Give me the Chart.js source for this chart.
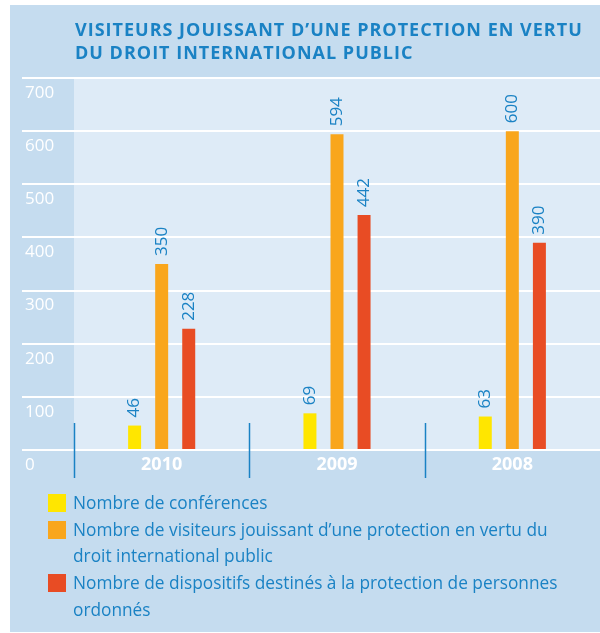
<!DOCTYPE html>
<html>
<head>
<meta charset="utf-8">
<script src="https://cdn.jsdelivr.net/npm/chart.js@4"></script>
<style>
  body { margin: 0; width: 600px; height: 633px; background: #fff; position: relative; overflow: hidden; font-family: 'Open Sans', sans-serif; }
  #panel { position: absolute; left: 10px; top: 5px; width: 590px; height: 627px; background: #c5dcef; }
  #chart { position: absolute; left: 0; top: 0; }
  #title { position: absolute; left: 75px; top: 18px; color: #1a82c4; font-weight: 700; font-size: 18px; letter-spacing: 1px; line-height: 23px; white-space: nowrap; }
  #legend { position: absolute; left: 48px; top: 490px; color: #1a82c4; font-size: 17.3px; line-height: 26.7px; }
  .item { display: flex; align-items: flex-start; white-space: nowrap; }
  .sw { width: 18px; height: 18px; margin-top: 4px; margin-right: 7px; flex: none; }
</style>
</head>
<body>
<div id="panel"></div>
<canvas id="chart" width="600" height="633"></canvas>
<div id="title">VISITEURS JOUISSANT D’UNE PROTECTION EN VERTU<br>DU DROIT INTERNATIONAL PUBLIC</div>
<div id="legend"></div>
<script>
const years = ['2010', '2009', '2008'];
const conferences = [46, 69, 63];
const visitors = [350, 594, 600];
const devices = [228, 442, 390];
const seriesNames = [
  'Nombre de conférences',
  'Nombre de visiteurs jouissant d’une protection en vertu du<br>droit international public',
  'Nombre de dispositifs destinés à la protection de personnes<br>ordonnés'
];
const colors = ['#ffe600', '#f9a61c', '#e84c24'];
const blue = '#1a82c4';

// legend in html so the long labels can wrap like the original
document.getElementById('legend').innerHTML = seriesNames.map((name, i) =>
  '<div class="item"><span class="sw" style="background:' + colors[i] + '"></span><span>' + name + '</span></div>'
).join('');

const plotBg = {
  id: 'plotBg',
  beforeDraw(chart) {
    const { ctx, chartArea: a } = chart;
    ctx.save();
    ctx.fillStyle = '#deebf7';
    ctx.fillRect(a.left, a.top, a.right - a.left, a.bottom - a.top);
    ctx.restore();
  }
};

const separators = {
  id: 'separators',
  afterDraw(chart) {
    const { ctx, chartArea: a } = chart;
    const x = chart.scales.x;
    ctx.save();
    ctx.strokeStyle = blue;
    ctx.lineWidth = 1.5;
    for (let i = 0; i < years.length; i++) {
      const px = Math.round(x.getPixelForValue(i - 0.5)) + 0.5;
      ctx.beginPath();
      ctx.moveTo(px, a.bottom - 27);
      ctx.lineTo(px, a.bottom + 28);
      ctx.stroke();
    }
    ctx.restore();
  }
};

const valueLabels = {
  id: 'valueLabels',
  afterDatasetsDraw(chart) {
    const ctx = chart.ctx;
    ctx.save();
    ctx.fillStyle = blue;
    ctx.font = '17px "Open Sans"';
    ctx.textAlign = 'left';
    ctx.textBaseline = 'middle';
    chart.data.datasets.forEach((ds, di) => {
      chart.getDatasetMeta(di).data.forEach((bar, i) => {
        ctx.save();
        ctx.translate(bar.x, bar.y - 8);
        ctx.rotate(-Math.PI / 2);
        ctx.fillText(String(ds.data[i]), 0, 0);
        ctx.restore();
      });
    });
    ctx.restore();
  }
};

new Chart(document.getElementById('chart'), {
  type: 'bar',
  data: {
    labels: years,
    datasets: [
      { label: 'Nombre de conférences', data: conferences, backgroundColor: colors[0] },
      { label: 'Nombre de visiteurs', data: visitors, backgroundColor: colors[1] },
      { label: 'Nombre de dispositifs', data: devices, backgroundColor: colors[2] }
    ]
  },
  options: {
    responsive: false,
    animation: false,
    categoryPercentage: 0.463,
    barPercentage: 0.48,
    layout: { padding: { left: 25, top: 78, right: 0, bottom: 143 } },
    plugins: { legend: { display: false }, tooltip: { enabled: false } },
    scales: {
      x: {
        grid: { display: false, drawTicks: false },
        border: { display: false },
        ticks: { color: '#fff', padding: 4, font: { family: 'Open Sans', size: 18, weight: 'bold' } },
        afterFit(s) { s.height = 40; }
      },
      y: {
        min: 0,
        max: 700,
        grid: { color: '#fff', lineWidth: 2, tickLength: 52 },
        border: { display: false },
        ticks: { stepSize: 100, color: '#fff', crossAlign: 'far', labelOffset: 15, padding: 0, font: { family: 'Open Sans', size: 17 } },
        afterFit(s) { s.width = 49; }
      }
    }
  },
  plugins: [plotBg, separators, valueLabels]
});
</script>
</body>
</html>
